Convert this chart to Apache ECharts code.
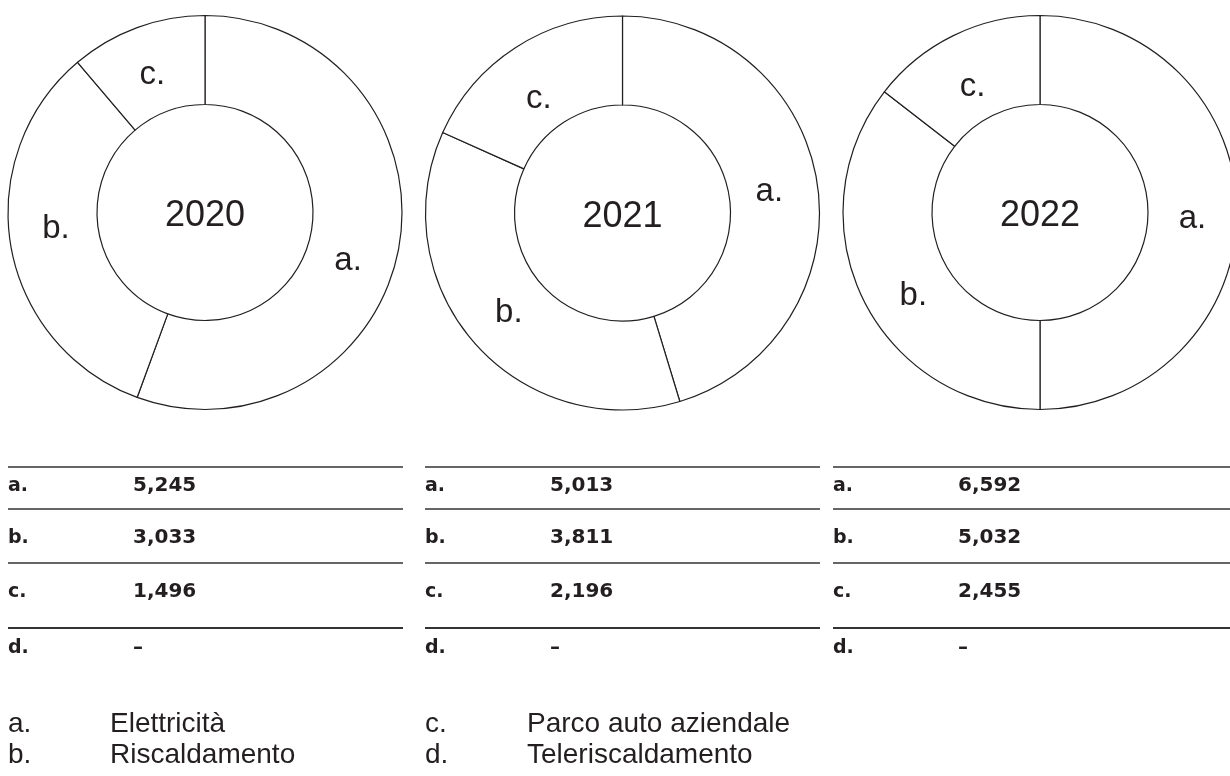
<!DOCTYPE html>
<html>
<head>
<meta charset="utf-8">
<script src="https://cdn.jsdelivr.net/npm/echarts@6/dist/echarts.min.js"></script>
<style>
  html, body { margin: 0; padding: 0; background: #ffffff; }
  #chart { width: 1230px; height: 776px; }
</style>
</head>
<body>
<div id="chart"></div>
<script>
// ---------- data ----------
const years = ['2020', '2021', '2022'];
const categories = ['a.', 'b.', 'c.', 'd.'];
const categoryNames = ['Elettricità', 'Riscaldamento', 'Parco auto aziendale', 'Teleriscaldamento'];
const tableValues2020 = ['5,245', '3,033', '1,496', '–'];
const tableValues2021 = ['5,013', '3,811', '2,196', '–'];
const tableValues2022 = ['6,592', '5,032', '2,455', '–'];
// ring slice shares (%) as drawn in the rings
const ringShares2020 = [55.6, 33.2, 11.2];
const ringShares2021 = [45.3, 36.4, 18.3];
const ringShares2022 = [50.0, 35.5, 14.5];

// ---------- layout ----------
const INK = '#231f20';
const FONT = '"Liberation Sans", Arial, Helvetica, sans-serif';
const TABLE_FONT = '"DejaVu Sans", "Liberation Sans", sans-serif';
const ringCenters = [[205, 212.5], [622.5, 213], [1040, 212.5]];
const ringRadius = [108, 197];
// small hand-placement nudges of the ring letters [dx, dy] per ring / slice
const labelNudges = [
  [[-10, 21], [4, -11], [1, 8]],
  [[-7, 2], [3, -3], [1, 16]],
  [[-3, 6], [13, 15], [1, 14]]
];
const tableX = [8, 425, 833];
const tableRight = [403, 820, 1230];
const valueOffset = 125;
const ruleY = [467, 509, 563, 628];
const rowY = [486, 538, 592, 648];
const legendRowY = [724, 755];
const legendColX = [8, 425];
const legendTextOffset = 102;

const tableValues = [tableValues2020, tableValues2021, tableValues2022];
const ringShares = [ringShares2020, ringShares2021, ringShares2022];

const series = years.map((y, i) => ({
  type: 'pie',
  center: ringCenters[i],
  radius: ringRadius,
  startAngle: 90,
  clockwise: true,
  silent: true,
  animation: false,
  avoidLabelOverlap: false,
  itemStyle: { color: '#ffffff', borderColor: INK, borderWidth: 1.2 },
  label: {
    show: true, position: 'inside', formatter: '{b}',
    fontSize: 33, fontFamily: FONT, color: INK
  },
  labelLine: { show: false },
  labelLayout: function (p) {
    const n = labelNudges[i][p.dataIndex] || [0, 0];
    return { dx: n[0], dy: n[1] };
  },
  emphasis: { disabled: true },
  data: ringShares[i].map((v, k) => ({ name: categories[k], value: v }))
}));

const graphics = [];
// year labels in ring centres
years.forEach((y, i) => {
  graphics.push({
    type: 'text', x: ringCenters[i][0], y: ringCenters[i][1] + 4,
    style: { text: y, fill: INK, fontSize: 36, fontFamily: FONT, align: 'center', verticalAlign: 'middle' }
  });
});
// tables
tableValues.forEach((vals, t) => {
  ruleY.forEach((ly, r) => {
    graphics.push({
      type: 'line',
      shape: { x1: tableX[t], y1: ly, x2: tableRight[t], y2: ly },
      style: { stroke: '#333', lineWidth: r === ruleY.length - 1 ? 2 : 1.4 }
    });
  });
  categories.forEach((c, r) => {
    graphics.push({
      type: 'text', x: tableX[t], y: rowY[r],
      style: { text: c, fill: INK, fontSize: 19, fontWeight: 'bold', fontFamily: TABLE_FONT, align: 'left', verticalAlign: 'middle' }
    });
    graphics.push({
      type: 'text', x: tableX[t] + valueOffset, y: rowY[r],
      style: { text: vals[r], fill: INK, fontSize: 20, fontWeight: 'bold', fontFamily: TABLE_FONT, align: 'left', verticalAlign: 'middle' }
    });
  });
});
// legend
categories.forEach((c, k) => {
  const col = Math.floor(k / 2), row = k % 2;
  graphics.push({
    type: 'text', x: legendColX[col], y: legendRowY[row],
    style: { text: c, fill: INK, fontSize: 28, fontFamily: FONT, align: 'left', verticalAlign: 'middle' }
  });
  graphics.push({
    type: 'text', x: legendColX[col] + legendTextOffset, y: legendRowY[row],
    style: { text: categoryNames[k], fill: INK, fontSize: 28, fontFamily: FONT, align: 'left', verticalAlign: 'middle' }
  });
});

const chart = echarts.init(document.getElementById('chart'), null, { renderer: 'canvas' });
chart.setOption({
  backgroundColor: '#ffffff',
  animation: false,
  series: series,
  graphic: graphics
});
</script>
</body>
</html>
